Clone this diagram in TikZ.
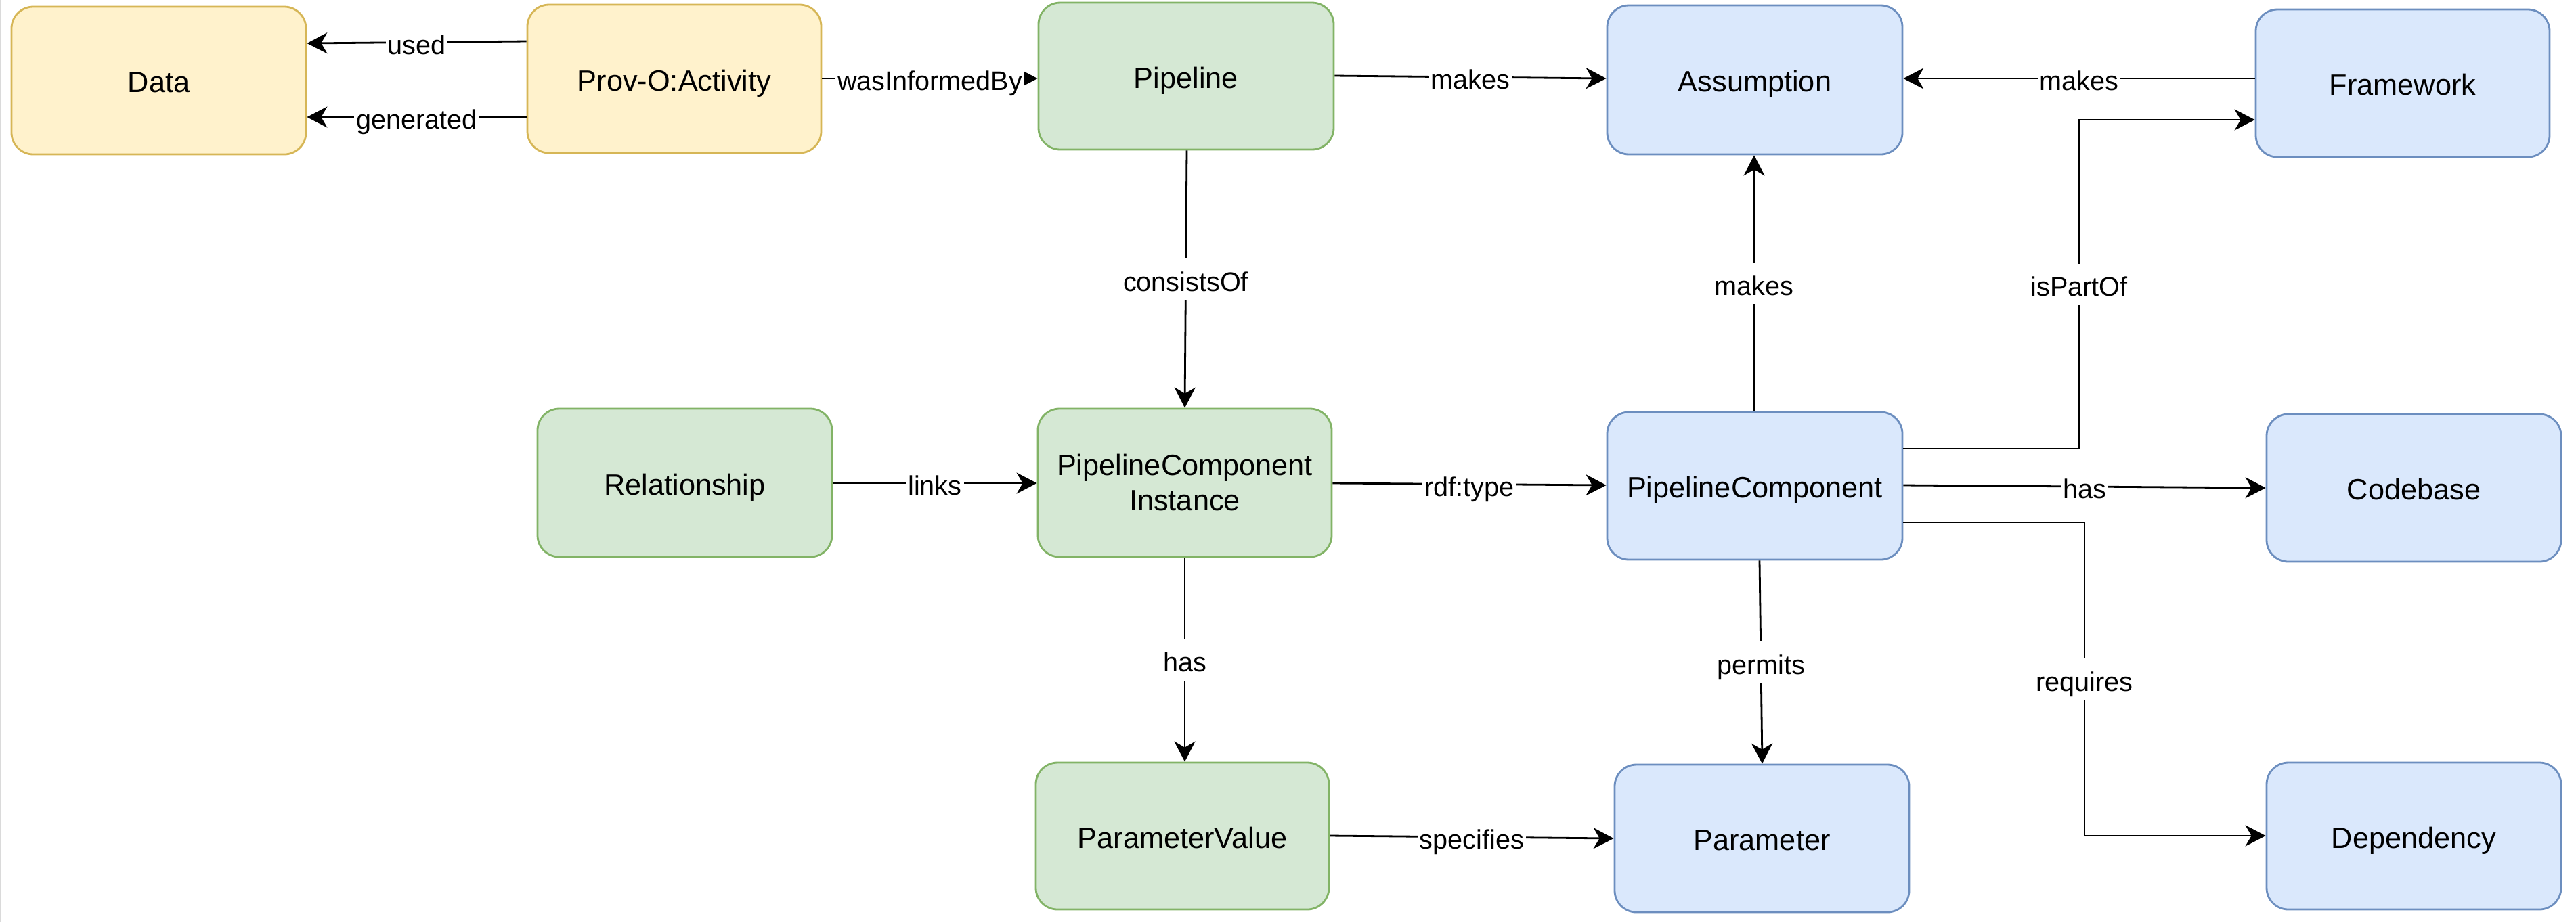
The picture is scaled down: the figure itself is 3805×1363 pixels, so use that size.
\documentclass[tikz,border=0pt]{standalone}
\usepackage{fontspec}
\setmainfont{Liberation Sans}
\usetikzlibrary{arrows.meta}
\definecolor{yfill}{HTML}{FFF2CC}
\definecolor{ystroke}{HTML}{D6B656}
\definecolor{gfill}{HTML}{D5E8D4}
\definecolor{gstroke}{HTML}{82B366}
\definecolor{bfill}{HTML}{DAE8FC}
\definecolor{bstroke}{HTML}{6C8EBF}
\definecolor{pageedge}{HTML}{DADADA}
\newcommand\ndfont{\fontsize{8.66}{10.4}\selectfont}
\newcommand\lbfont{\fontsize{7.92}{9.5}\selectfont}
\tikzset{
  box/.style={draw, rounded corners=6.4pt, line width=0.56pt, inner sep=0pt, align=center, font=\ndfont},
  oneline/.style={text height=0.9em, text depth=0.2em},
  ybox/.style={box, oneline, fill=yfill, draw=ystroke},
  gbox/.style={box, oneline, fill=gfill, draw=gstroke},
  bbox/.style={box, oneline, fill=bfill, draw=bstroke},
  wh/.style 2 args={minimum width=#1*0.2pt, minimum height=#2*0.2pt},
  edge/.style={draw=black, line width=0.56pt, -{Stealth[length=6pt,width=6.2pt,inset=1.8pt]}},
  lbl/.style={fill=white, inner sep=0.6pt, font=\lbfont, text=black, text height=0.9em, text depth=0.2em}
}
\begin{document}
\begin{tikzpicture}[x=0.2pt,y=-0.2pt]
\useasboundingbox (0,0) rectangle (3805,1363);
\fill[pageedge] (0,0) rectangle (2.5,1363);
% nodes
\node[ybox, wh={435}{218}] (data)  at (234.5,119)  {Data};
\node[ybox, wh={434}{219}] (prov)  at (996,116.5)  {Prov-O:Activity};
\node[gbox, wh={436}{217}] (pipe)  at (1752,112.5) {Pipeline};
\node[bbox, wh={436}{220}] (assum) at (2592,118)   {Assumption};
\node[bbox, wh={434}{218}] (frame) at (3549,123)   {Framework};
\node[gbox, wh={435}{219}] (rel)   at (1011.5,713.5) {Relationship};
\node[box, fill=gfill, draw=gstroke, wh={434}{219}] (pci) at (1750,713.5) {PipelineComponent\\Instance};
\node[bbox, wh={436}{218}] (pc)    at (2592,718)   {PipelineComponent};
\node[bbox, wh={435}{218}] (code)  at (3565.5,721) {Codebase};
\node[gbox, wh={433}{217}] (pv)    at (1746.5,1235.5) {ParameterValue};
\node[bbox, wh={435}{218}] (param) at (2602.5,1239) {Parameter};
\node[bbox, wh={435}{217}] (dep)   at (3565.5,1235.5) {Dependency};
% edges
\draw[edge] (prov.west |- 0,61) -- node[lbl]{used} (data.east |- 0,64);
\draw[edge] (prov.west |- 0,173) -- node[lbl]{generated} (data.east |- 0,173);
\draw[edge] (prov.east |- 0,116) -- node[lbl]{wasInformedBy} (pipe.west |- 0,116);
\draw[edge] (pipe.east |- 0,112) -- node[lbl]{makes} (assum.west |- 0,116);
\draw[edge] (frame.west |- 0,116) -- node[lbl]{makes} (assum.east |- 0,116);
\draw[edge] (pipe.south -| 1753,0) -- node[lbl]{consistsOf} (pci.north -| 1750,0);
\draw[edge] (pc.north -| 2591,0) -- node[lbl]{makes} (assum.south -| 2591,0);
\draw[edge] (pc.east |- 0,663) -- (3071,663) -- node[lbl]{isPartOf} (3071,177) -- (frame.west |- 0,177);
\draw[edge] (rel.east |- 0,714) -- node[lbl]{links} (pci.west |- 0,714);
\draw[edge] (pci.east |- 0,714) -- node[lbl]{rdf:type} (pc.west |- 0,717);
\draw[edge] (pc.east |- 0,717) -- node[lbl]{has} (code.west |- 0,721);
\draw[edge] (pc.east |- 0,772) -- (3079,772) -- node[lbl]{requires} (3079,1235) -- (dep.west |- 0,1235);
\draw[edge] (pci.south -| 1750,0) -- node[lbl]{has} (pv.north -| 1750,0);
\draw[edge] (pc.south -| 2599,0) -- node[lbl]{permits} (param.north -| 2603,0);
\draw[edge] (pv.east |- 0,1235) -- node[lbl]{specifies} (param.west |- 0,1239);
\end{tikzpicture}
\end{document}
